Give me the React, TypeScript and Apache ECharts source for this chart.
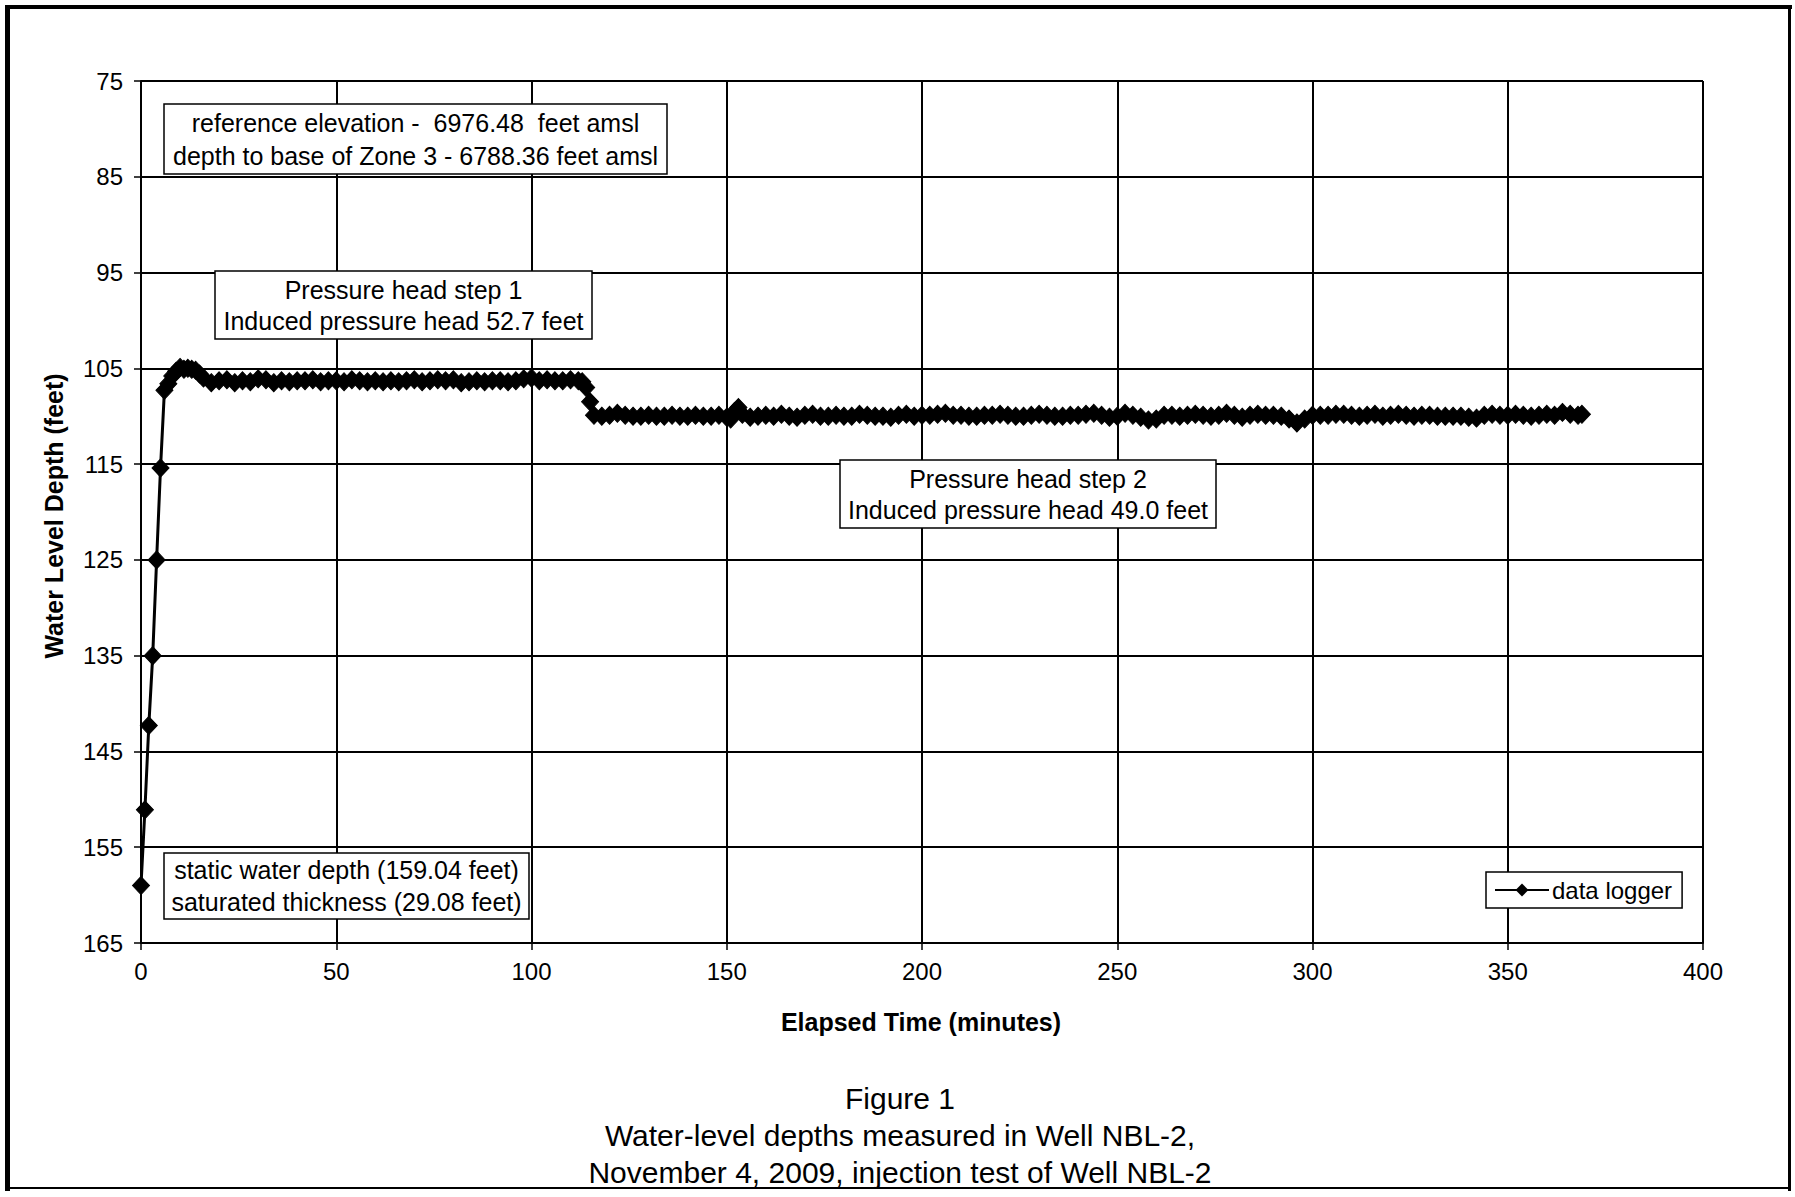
import React, { useEffect, useRef } from "react";
import * as echarts from "echarts";

const FONT = '"Liberation Sans", Arial, sans-serif';

// Axis settings (tick labels)
const yTicks = [75, 85, 95, 105, 115, 125, 135, 145, 155, 165];
const xTicks = [0, 50, 100, 150, 200, 250, 300, 350, 400];

// Data logger readings: [elapsed time (minutes), water level depth (feet)]
const dataLogger: [number, number][] = [
  [0, 159.0], [1, 151.1], [2, 142.3], [3, 135.0], [4, 125.0], [5, 115.4], [6, 107.3],
  [7, 106.6], [8, 105.8], [9, 105.3], [10, 104.9], [11, 105.1], [12, 105.0], [13, 105.1],
  [14, 105.2], [15, 105.6], [16, 106.0], [18, 106.5], [20, 106.3], [22, 106.2], [24, 106.5],
  [26, 106.3], [28, 106.4], [30, 106.1], [32, 106.2], [34, 106.5], [36, 106.3], [38, 106.4],
  [40, 106.3], [42, 106.3], [44, 106.2], [46, 106.4], [48, 106.3], [50, 106.3], [52, 106.4],
  [54, 106.2], [56, 106.3], [58, 106.4], [60, 106.3], [62, 106.4], [64, 106.3], [66, 106.4],
  [68, 106.3], [70, 106.2], [72, 106.4], [74, 106.3], [76, 106.2], [78, 106.3], [80, 106.2],
  [82, 106.5], [84, 106.4], [86, 106.3], [88, 106.4], [90, 106.3], [92, 106.3], [94, 106.4],
  [96, 106.3], [98, 106.1], [100, 106.0], [102, 106.3], [104, 106.2], [106, 106.3], [108, 106.3],
  [110, 106.2], [112, 106.3], [113, 106.4], [114, 107.0], [115, 108.5], [116, 109.9],
  [118, 110.0], [120, 109.9], [122, 109.7], [124, 109.9], [126, 110.0], [128, 110.0], [130, 109.9],
  [132, 110.0], [134, 110.0], [136, 109.9], [138, 110.0], [140, 110.0], [142, 109.9], [144, 110.0],
  [146, 110.0], [148, 109.9], [150, 110.1], [151, 110.3], [152, 109.5], [153, 109.1], [154, 109.8],
  [156, 110.1], [158, 110.0], [160, 109.9], [162, 110.0], [164, 109.8], [166, 110.0], [168, 110.1],
  [170, 109.9], [172, 109.8], [174, 110.0], [176, 110.0], [178, 109.9], [180, 110.0], [182, 110.0],
  [184, 109.8], [186, 109.9], [188, 110.0], [190, 110.0], [192, 110.1], [194, 109.9], [196, 109.8],
  [198, 110.0], [200, 109.9], [202, 109.9], [204, 109.8], [206, 109.7], [208, 109.9], [210, 109.9],
  [212, 110.0], [214, 110.0], [216, 109.9], [218, 109.9], [220, 109.8], [222, 109.9], [224, 110.0],
  [226, 110.0], [228, 109.9], [230, 109.8], [232, 109.9], [234, 110.0], [236, 110.0], [238, 109.9],
  [240, 109.9], [242, 109.8], [244, 109.7], [246, 109.9], [248, 110.1], [250, 110.0], [252, 109.7],
  [254, 109.9], [256, 110.1], [258, 110.4], [260, 110.3], [262, 109.9], [264, 109.9], [266, 110.0],
  [268, 109.9], [270, 109.8], [272, 109.9], [274, 110.0], [276, 109.9], [278, 109.7], [280, 109.9],
  [282, 110.1], [284, 109.9], [286, 109.8], [288, 109.9], [290, 109.9], [292, 110.0], [294, 110.3],
  [296, 110.7], [298, 110.3], [300, 109.9], [302, 109.9], [304, 109.9], [306, 109.8], [308, 109.8],
  [310, 109.9], [312, 110.0], [314, 109.9], [316, 109.8], [318, 110.0], [320, 109.9], [322, 109.8],
  [324, 109.9], [326, 110.0], [328, 109.9], [330, 109.9], [332, 110.0], [334, 110.0], [336, 110.0],
  [338, 110.0], [340, 110.1], [342, 110.2], [344, 109.9], [346, 109.8], [348, 109.9], [350, 109.9],
  [352, 109.8], [354, 109.9], [356, 110.0], [358, 109.9], [360, 109.8], [362, 109.9], [364, 109.6],
  [366, 109.8], [368, 109.9], [369, 109.8],
];

const seriesName = "data logger";

// Annotation texts
const boxReference = ["reference elevation -  6976.48  feet amsl", "depth to base of Zone 3 - 6788.36 feet amsl"];
const boxStep1 = ["Pressure head step 1", "Induced pressure head 52.7 feet"];
const boxStep2 = ["Pressure head step 2", "Induced pressure head 49.0 feet"];
const boxStatic = ["static water depth (159.04 feet)", "saturated thickness (29.08 feet)"];
const captionLines = ["Figure 1", "Water-level depths measured in Well NBL-2,", "November 4, 2009, injection test of Well NBL-2"];
const xTitle = "Elapsed Time (minutes)";
const yTitle = "Water Level Depth (feet)";

function textBox(lines: string[], x: number, y: number, w: number, h: number, lineGap: number) {
  const cx = x + w / 2;
  const cy = y + h / 2;
  const n = lines.length;
  return {
    type: "group",
    z: 100,
    children: [
      {
        type: "rect",
        shape: { x, y, width: w, height: h },
        style: { fill: "#fff", stroke: "#000", lineWidth: 1.5 },
        z: 100,
      },
      ...lines.map((t, i) => ({
        type: "text",
        x: cx,
        y: cy + (i - (n - 1) / 2) * lineGap,
        z: 101,
        style: {
          text: t,
          font: `25px ${FONT}`,
          fill: "#000",
          align: "center",
          verticalAlign: "middle",
        },
      })),
    ],
  };
}

export default function App() {
  const ref = useRef<HTMLDivElement>(null);

  useEffect(() => {
    if (!ref.current) return;
    const chart = echarts.init(ref.current, undefined, { renderer: "svg" });
    const option: any = {
      animation: false,
      backgroundColor: "#fff",
      textStyle: { fontFamily: FONT, color: "#000" },
      grid: { left: 141, right: 92, top: 81, bottom: 254, containLabel: false },
      xAxis: {
        type: "value",
        min: xTicks[0],
        max: xTicks[xTicks.length - 1],
        interval: 50,
        axisLine: { show: true, lineStyle: { color: "#000", width: 2 } },
        axisTick: { show: true, length: 7, lineStyle: { color: "#000", width: 1.5 } },
        axisLabel: { color: "#000", fontSize: 24, fontFamily: FONT, margin: 16 },
        splitLine: { show: true, lineStyle: { color: "#000", width: 2 } },
      },
      yAxis: {
        type: "value",
        inverse: true,
        min: yTicks[0],
        max: yTicks[yTicks.length - 1],
        interval: 10,
        axisLine: { show: true, lineStyle: { color: "#000", width: 2 } },
        axisTick: { show: true, length: 7, lineStyle: { color: "#000", width: 1.5 } },
        axisLabel: { color: "#000", fontSize: 24, fontFamily: FONT, margin: 18 },
        splitLine: { show: true, lineStyle: { color: "#000", width: 2 } },
      },
      legend: {
        show: true,
        left: 1486,
        top: 872,
        orient: "horizontal",
        backgroundColor: "#fff",
        borderColor: "#000",
        borderWidth: 1.5,
        borderRadius: 0,
        padding: [6, 10, 6, 8],
        itemWidth: 54,
        itemHeight: 16,
        itemGap: 4,
        textStyle: { fontSize: 24, color: "#000", fontFamily: FONT, padding: [0, 0, 0, -2] },
        data: [seriesName],
      },
      series: [
        {
          name: seriesName,
          type: "line",
          data: dataLogger,
          symbol: "diamond",
          symbolSize: [17, 18],
          showAllSymbol: true,
          lineStyle: { color: "#000", width: 3 },
          itemStyle: { color: "#000", borderColor: "#000" },
          z: 5,
        },
      ],
      graphic: [
        // outer frame
        { type: "rect", shape: { x: 5, y: 5, width: 1787, height: 4 }, style: { fill: "#000" }, z: 200 },
        { type: "rect", shape: { x: 5, y: 5, width: 5, height: 1186 }, style: { fill: "#000" }, z: 200 },
        { type: "rect", shape: { x: 1788, y: 5, width: 3, height: 1186 }, style: { fill: "#000" }, z: 200 },
        { type: "rect", shape: { x: 5, y: 1187, width: 1786, height: 2 }, style: { fill: "#000" }, z: 200 },
        textBox(boxReference, 164, 104, 503, 70, 33),
        textBox(boxStep1, 215, 271, 377, 68, 31),
        textBox(boxStep2, 840, 460, 376, 68, 31),
        textBox(boxStatic, 164, 853, 365, 66, 32),
        {
          type: "text",
          x: 921,
          y: 1022,
          style: { text: xTitle, font: `bold 25px ${FONT}`, fill: "#000", align: "center", verticalAlign: "middle" },
        },
        {
          type: "text",
          x: 54,
          y: 516,
          rotation: Math.PI / 2,
          style: { text: yTitle, font: `bold 25px ${FONT}`, fill: "#000", align: "center", verticalAlign: "middle" },
        },
        ...captionLines.map((t, i) => ({
          type: "text",
          x: 900,
          y: 1098 + i * 37,
          style: { text: t, font: `30px ${FONT}`, fill: "#000", align: "center", verticalAlign: "middle" },
        })),
      ],
    };
    chart.setOption(option);
    return () => chart.dispose();
  }, []);

  return (
    <div
      ref={ref}
      style={{ position: "absolute", left: 0, top: 0, width: 1795, height: 1197, background: "#fff" }}
    />
  );
}
